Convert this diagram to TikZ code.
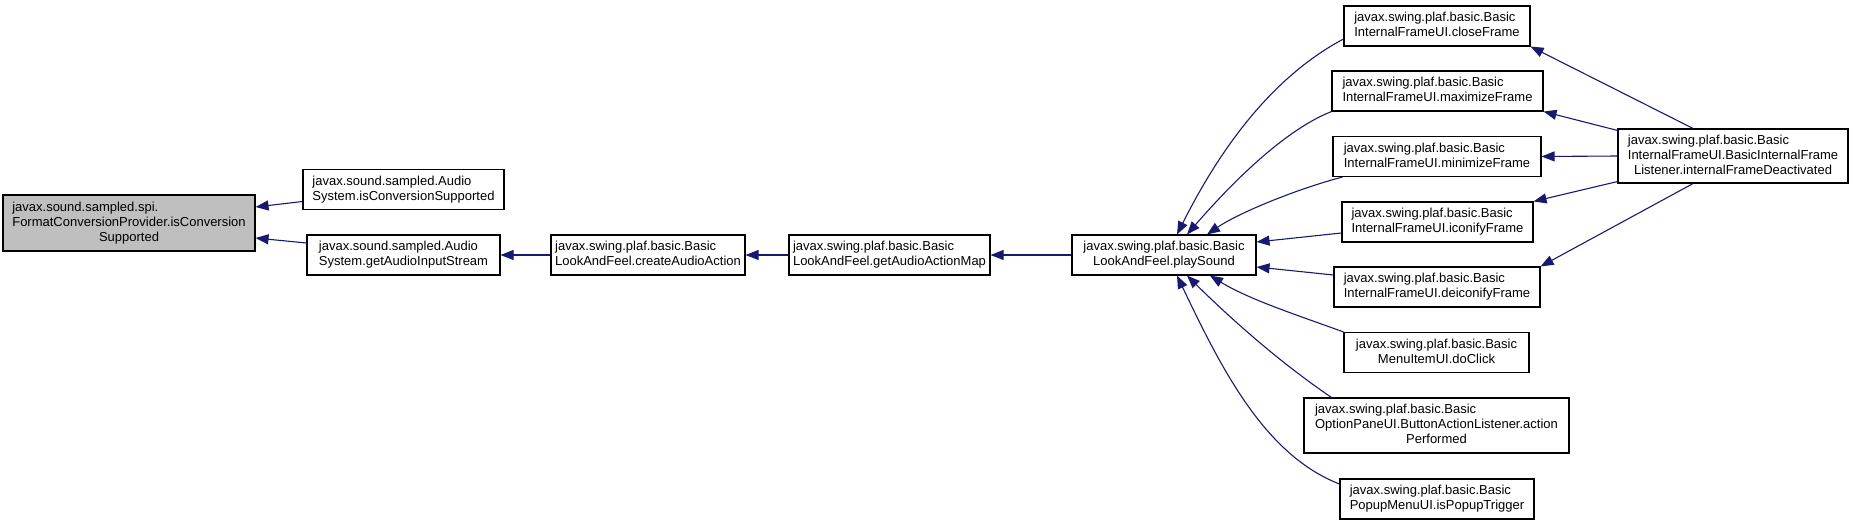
\documentclass[tikz,border=0pt]{standalone}
\usepackage{fontspec}
\setsansfont{Liberation Sans}
\usepackage{xcolor}
\definecolor{ink}{HTML}{000000}
\definecolor{callc}{HTML}{191970}
\definecolor{rootc}{HTML}{BFBFBF}
\usepackage{tikz}
\usetikzlibrary{arrows.meta,calc}
\newcommand{\lbl}[2]{\begin{tabular}{@{}l@{}}#1\\\multicolumn{1}{@{}c@{}}{#2}\end{tabular}}

\begin{document}
\begin{tikzpicture}[x=1pt,y=-1pt,every node/.style={font=\sffamily\fontsize{13}{15}\selectfont}]
\tikzstyle{cls}=[draw=ink,line width=1.1pt,fill=white,minimum height=40pt,inner sep=0pt,align=center]
\tikzstyle{call}=[callc,line width=1.1pt,-{Triangle[length=13pt,width=10pt]}]
\useasboundingbox (0,0) rectangle (1853,525);
\node[cls,fill=rootc,minimum width=252pt,minimum height=56pt] (root) at (129,223) {\lbl{javax.sound.sampled.spi.\\FormatConversionProvider.isConversion}{Supported}};
\node[cls,minimum width=201pt] (asics) at (403.5,189.5) {\lbl{javax.sound.sampled.Audio}{System.isConversionSupported}};
\node[cls,minimum width=193pt] (gais) at (403.5,255) {\lbl{javax.sound.sampled.Audio}{System.getAudioInputStream}};
\node[cls,minimum width=194pt] (caa) at (648,255) {\lbl{javax.swing.plaf.basic.Basic}{LookAndFeel.createAudioAction}};
\node[cls,minimum width=201pt] (gaam) at (889.5,255) {\lbl{javax.swing.plaf.basic.Basic}{LookAndFeel.getAudioActionMap}};
\node[cls,minimum width=184pt] (play) at (1164,255) {\lbl{javax.swing.plaf.basic.Basic}{LookAndFeel.playSound}};
\node[cls,minimum width=186pt] (cf) at (1437,26) {\lbl{javax.swing.plaf.basic.Basic}{InternalFrameUI.closeFrame}};
\node[cls,minimum width=211pt] (maxf) at (1437.5,91) {\lbl{javax.swing.plaf.basic.Basic}{InternalFrameUI.maximizeFrame}};
\node[cls,minimum width=208pt] (minf) at (1437,156.5) {\lbl{javax.swing.plaf.basic.Basic}{InternalFrameUI.minimizeFrame}};
\node[cls,minimum width=191pt] (icf) at (1437.5,222) {\lbl{javax.swing.plaf.basic.Basic}{InternalFrameUI.iconifyFrame}};
\node[cls,minimum width=206pt] (dicf) at (1437,287) {\lbl{javax.swing.plaf.basic.Basic}{InternalFrameUI.deiconifyFrame}};
\node[cls,minimum width=185pt] (dc) at (1436.5,352.5) {\lbl{javax.swing.plaf.basic.Basic}{MenuItemUI.doClick}};
\node[cls,minimum width=265pt,minimum height=55pt] (bal) at (1436.5,425.5) {\lbl{javax.swing.plaf.basic.Basic\\OptionPaneUI.ButtonActionListener.action}{Performed}};
\node[cls,minimum width=194pt] (ppt) at (1437,499) {\lbl{javax.swing.plaf.basic.Basic}{PopupMenuUI.isPopupTrigger}};
\node[cls,minimum width=230pt,minimum height=54pt] (ifd) at (1733,156) {\lbl{javax.swing.plaf.basic.Basic\\InternalFrameUI.BasicInternalFrame}{Listener.internalFrameDeactivated}};
\draw[call] ([yshift=-12pt]asics.west) -- ([yshift=16pt]root.east);
\draw[call] ([yshift=12pt]gais.west) -- ([yshift=-15pt]root.east);
\draw[call] (caa) -- (gais);
\draw[call] (gaam) -- (caa);
\draw[call] (play) -- (gaam);
\draw[call] ([yshift=-13pt]cf.west) .. controls (1274,76) and (1222,145) .. ([xshift=13pt]play.north);
\draw[call] (maxf.south west) .. controls (1277,133) and (1217,200) .. ([xshift=23pt]play.north);
\draw[call] ([xshift=10pt]minf.south west) .. controls (1300,188) and (1240,212) .. ([xshift=43pt]play.north);
\draw[call] ([yshift=-11pt]icf.west) -- ([yshift=13pt]play.east);
\draw[call] ([yshift=12pt]dicf.west) -- ([yshift=-12pt]play.east);
\draw[call] (dc.north west) .. controls (1300,316) and (1250,300) .. ([xshift=46pt]play.south);
\draw[call] ([xshift=28pt]bal.north west) .. controls (1272,357) and (1222,310) .. ([xshift=23pt]play.south);
\draw[call] ([yshift=15pt]ppt.west) .. controls (1265,455) and (1222,370) .. ([xshift=13pt]play.south);
\draw[call] ([xshift=-40pt]ifd.north) -- (cf.south east);
\draw[call] ([yshift=-2pt]ifd.north west) -- (maxf.south east);
\draw[call] (ifd.west) -- (minf.east);
\draw[call] ([yshift=2pt]ifd.south west) -- (icf.north east);
\draw[call] ([xshift=-40pt]ifd.south) -- (dicf.north east);
\end{tikzpicture}
\end{document}
